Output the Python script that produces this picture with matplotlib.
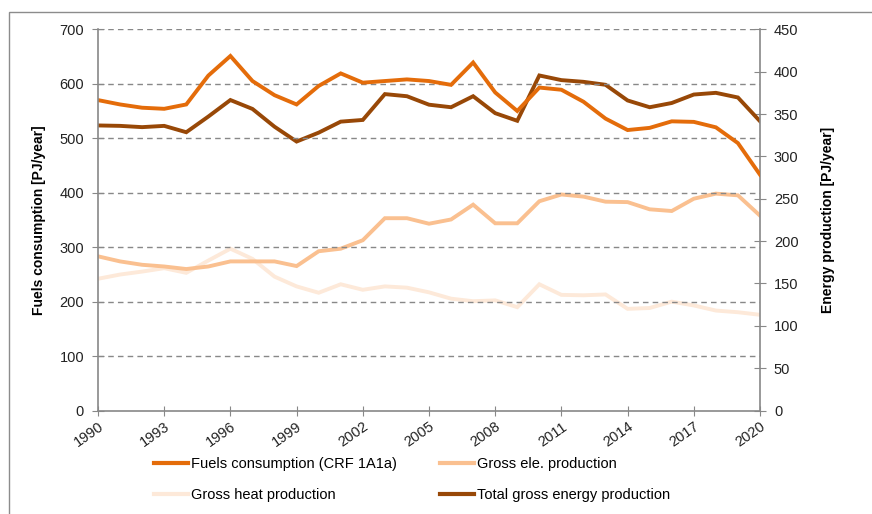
import matplotlib
matplotlib.use("Agg")
import matplotlib.pyplot as plt
from matplotlib.patches import Rectangle
from matplotlib.lines import Line2D

years = list(range(1990, 2021))
fuels = [570, 562, 556, 554, 562, 615, 651, 605, 579, 562, 596, 619, 602, 605, 608,
         605, 598, 639, 584, 550, 593, 589, 567, 536, 515, 519, 531, 530, 520, 491, 433]
ele = [182, 176, 172, 170, 167, 170, 176, 176, 176, 170.5, 188, 191, 201, 227, 227,
       220.5, 225.5, 243, 221, 221, 247, 255, 252.5, 246.5, 246, 237.5, 235.5, 250, 256, 254, 230]
heat = [155.5, 160.5, 164, 168, 162.5, 177, 191, 179, 158, 146.5, 139, 149, 142.5, 146.5, 145,
        139.5, 132, 129, 130, 122, 149, 136.5, 136, 137, 120, 121, 128.5, 124, 118, 116, 113]
total = [336.5, 336, 334.5, 336, 328.5, 347, 366.5, 356, 335, 317.5, 328, 341, 343, 373.5, 371,
         361, 358, 371, 351, 342, 395.5, 390, 388, 384.5, 366, 358, 363, 373, 375, 369.5, 341.5]
xticks = list(range(1990, 2021, 3))
left_ticks = list(range(0, 701, 100))
right_ticks = list(range(0, 451, 50))

c_fuels = "#E46C0A"
c_ele = "#FAC090"
c_heat = "#FDE9D9"
c_total = "#984807"
grey = "#888888"
plt.rcParams['font.family'] = ['Liberation Sans', 'DejaVu Sans']

fig = plt.figure(figsize=(8.72, 5.14), dpi=100)
W, H = 872, 514
ax = fig.add_axes([98 / W, 1 - 410.5 / H, (760 - 98) / W, (410.5 - 29.3) / H])
ax2 = ax.twinx()

# outer frame
fig.patches.append(Rectangle((9 / W, -0.1), 1.2, 1 - 12 / H + 0.1, transform=fig.transFigure,
                             fill=False, edgecolor="#8c8c8c", linewidth=1.0))

ax.set_xlim(1990, 2020)
ax.set_ylim(0, 700)
ax2.set_ylim(0, 450)

for y in left_ticks[1:]:
    ax.axhline(y, color=grey, linestyle=(0, (4, 3)), linewidth=1.0, zorder=0)

lw = 2.8
ax2.plot(years, heat, color=c_heat, linewidth=lw, solid_joinstyle='miter')
ax2.plot(years, ele, color=c_ele, linewidth=lw, solid_joinstyle='miter')
ax2.plot(years, total, color=c_total, linewidth=lw, solid_joinstyle='miter')
ax.plot(years, fuels, color=c_fuels, linewidth=lw, solid_joinstyle='miter')
ax.set_zorder(ax2.get_zorder() + 1)
ax.patch.set_visible(False)

for a in (ax, ax2):
    for s in a.spines.values():
        s.set_visible(False)
ax.spines['left'].set_visible(True)
ax.spines['bottom'].set_visible(True)
ax2.spines['right'].set_visible(True)
for s in (ax.spines['left'], ax.spines['bottom'], ax2.spines['right']):
    s.set_color(grey)
    s.set_linewidth(1.2)

ax.set_xticks(xticks)
ax.set_xticklabels([str(t) for t in xticks], rotation=35, ha='right', rotation_mode='anchor',
                   fontsize=10.5)
ax.set_yticks(left_ticks)
ax.set_yticklabels([str(t) for t in left_ticks], fontsize=10.5)
ax2.set_yticks(right_ticks)
ax2.set_yticklabels([str(t) for t in right_ticks], fontsize=10.5)
ax.tick_params(axis='x', direction='inout', length=7, color=grey, pad=3, labelcolor='#222222')
ax.tick_params(axis='y', direction='inout', length=8, color=grey, pad=6, labelcolor='#222222')
ax2.tick_params(axis='y', direction='inout', length=8, color=grey, pad=6, labelcolor='#222222')

ax.set_ylabel("Fuels consumption [PJ/year]", fontsize=10, fontweight='bold', labelpad=10)
ax2.set_ylabel("Energy production [PJ/year]", fontsize=10, fontweight='bold', labelpad=16)

handles = [Line2D([], [], color=c_fuels, lw=3), Line2D([], [], color=c_heat, lw=3),
           Line2D([], [], color=c_ele, lw=3), Line2D([], [], color=c_total, lw=3)]
labels = ["Fuels consumption (CRF 1A1a)", "Gross heat production",
          "Gross ele. production", "Total gross energy production"]
fig.legend(handles, labels, ncol=2, loc='upper left', bbox_to_anchor=(141 / W, 1 - 444 / H),
           frameon=False, fontsize=10.5, handlelength=2.3, handletextpad=0.2,
           columnspacing=3.0, labelspacing=1.15)

fig.savefig("out.png", dpi=100)
